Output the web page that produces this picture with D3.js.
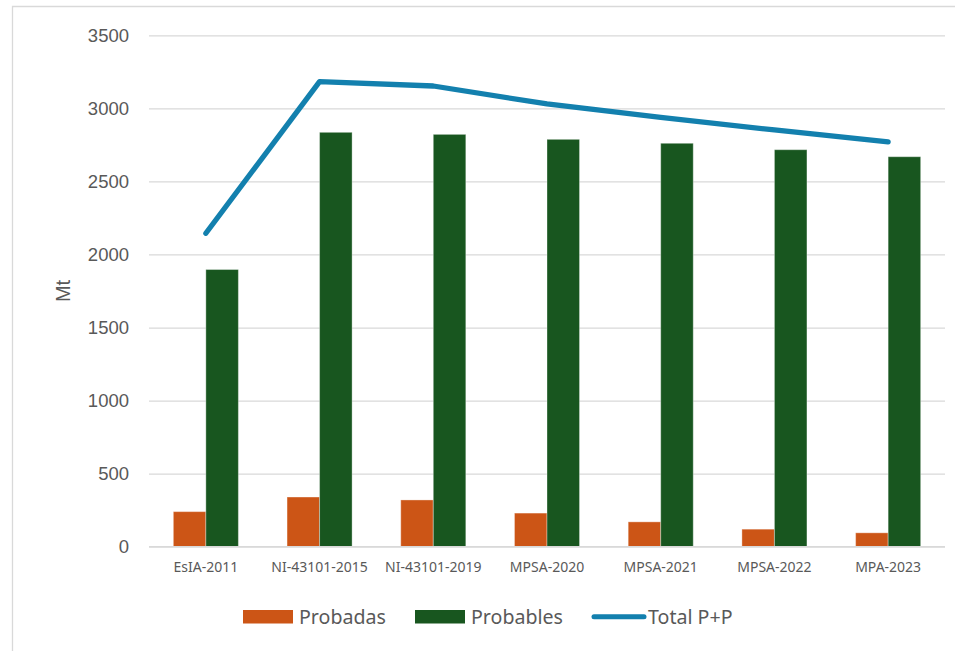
<!DOCTYPE html>
<html>
<head>
<meta charset="utf-8">
<script src="https://cdn.jsdelivr.net/npm/d3@7/dist/d3.min.js"></script>
<style>
  html, body { margin: 0; padding: 0; background: #fff; }
  svg { display: block; }
</style>
</head>
<body>
<svg id="chart" width="955" height="651"></svg>
<script>
const categories = ["EsIA-2011", "NI-43101-2015", "NI-43101-2019", "MPSA-2020", "MPSA-2021", "MPSA-2022", "MPA-2023"];
const probadas = [240, 340, 320, 230, 170, 120, 95];
const probables = [1897, 2836, 2822, 2788, 2761, 2717, 2669];
const totalPP = [2145, 3183, 3153, 3030, 2939, 2852, 2770];
const yTicks = [0, 500, 1000, 1500, 2000, 2500, 3000, 3500];
const seriesNames = ["Probadas", "Probables", "Total P+P"];
const colors = { "Probadas": "#CC5516", "Probables": "#18561F", "Total P+P": "#1380AE" };

const svg = d3.select("#chart");
const plotLeft = 149, plotRight = 945, plotTop = 35.3, plotBottom = 546.7;

// chart border
svg.append("path")
  .attr("d", "M12.5,651 L12.5,6.5 L955,6.5")
  .attr("fill", "none").attr("stroke", "#d9d9d9").attr("stroke-width", 1.3);

const x = d3.scaleBand().domain(categories).range([plotLeft, plotRight])
  .paddingInner(0.428).paddingOuter(0.214);
const x1 = d3.scaleBand().domain(["Probadas", "Probables"]).range([0, x.bandwidth()]);
const y = d3.scaleLinear().domain([0, 3500]).range([plotBottom, plotTop]);

// gridlines + y labels via axis
const yAxis = d3.axisLeft(y).tickValues(yTicks).tickSize(-(plotRight - plotLeft)).tickPadding(20).tickFormat(d3.format("d"));
const gy = svg.append("g").attr("transform", `translate(${plotLeft},0)`).call(yAxis);
gy.select(".domain").remove();
gy.selectAll(".tick line").attr("stroke", "#d9d9d9").attr("stroke-width", 1.3);
gy.selectAll(".tick text")
  .attr("fill", "#595959")
  .style("font-family", "'Liberation Sans', Arial, sans-serif")
  .style("font-size", "18.5px");

// bars
const data = categories.map((c, i) => ({ cat: c, vals: [
  { key: "Probadas", v: probadas[i] },
  { key: "Probables", v: probables[i] }
]}));
const groups = svg.append("g").selectAll("g").data(data).join("g")
  .attr("transform", d => `translate(${x(d.cat)},0)`);
groups.selectAll("rect").data(d => d.vals).join("rect")
  .attr("x", d => x1(d.key))
  .attr("y", d => y(d.v))
  .attr("width", x1.bandwidth())
  .attr("height", d => y(0) - y(d.v))
  .attr("fill", d => colors[d.key])
  .attr("stroke", "rgba(255,255,255,0.35)")
  .attr("stroke-width", 1);

// baseline
svg.append("line").attr("x1", plotLeft).attr("x2", plotRight).attr("y1", y(0)).attr("y2", y(0))
  .attr("stroke", "#d9d9d9").attr("stroke-width", 1.3);

// x axis labels
const xAxis = d3.axisBottom(x).tickSize(0).tickPadding(15);
const gx = svg.append("g").attr("transform", `translate(0,${plotBottom})`).call(xAxis);
gx.select(".domain").remove();
gx.selectAll(".tick text")
  .attr("fill", "#595959")
  .style("font-family", "'Noto Sans', sans-serif")
  .style("font-size", "14px");

// total line
const line = d3.line()
  .x((d, i) => x(categories[i]) + x.bandwidth() / 2)
  .y(d => y(d));
svg.append("path").datum(totalPP)
  .attr("d", line)
  .attr("fill", "none")
  .attr("stroke", colors["Total P+P"])
  .attr("stroke-width", 5.3)
  .attr("stroke-linecap", "round")
  .attr("stroke-linejoin", "round");

// y axis title
svg.append("text")
  .attr("transform", `translate(70,291) rotate(-90)`)
  .attr("text-anchor", "middle")
  .attr("fill", "#595959")
  .style("font-family", "'Liberation Sans', Arial, sans-serif")
  .style("font-size", "20px")
  .text("Mt");

// legend
const legend = svg.append("g").style("font-family", "'Noto Sans', sans-serif").style("font-size", "19.6px");
const legItems = [
  { name: seriesNames[0], sx: 243, tx: 299, type: "rect" },
  { name: seriesNames[1], sx: 415, tx: 471, type: "rect" },
  { name: seriesNames[2], sx: 592, tx: 648, type: "line" }
];
legItems.forEach(it => {
  if (it.type === "rect") {
    legend.append("rect").attr("x", it.sx).attr("y", 610).attr("width", 50).attr("height", 13.5)
      .attr("fill", colors[it.name]);
  } else {
    legend.append("line").attr("x1", it.sx + 2).attr("x2", it.sx + 52).attr("y1", 616.7).attr("y2", 616.7)
      .attr("stroke", colors[it.name]).attr("stroke-width", 5).attr("stroke-linecap", "round");
  }
  legend.append("text").attr("x", it.tx).attr("y", 623.8).attr("fill", "#595959").text(it.name);
});
</script>
</body>
</html>
